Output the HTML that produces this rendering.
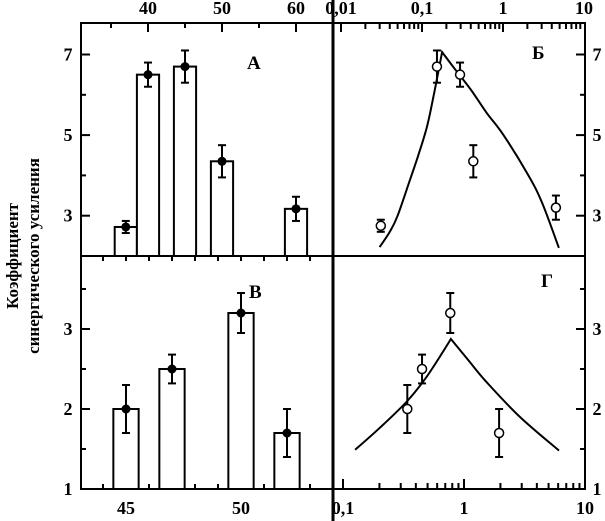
<!DOCTYPE html>
<html><head><meta charset="utf-8">
<style>
html,body{margin:0;padding:0;background:#fff;}
svg{display:block;font-family:"Liberation Serif","DejaVu Serif",serif;font-weight:bold;}
</style></head>
<body>
<svg id="chart" width="605" height="521" viewBox="0 0 605 521" xmlns="http://www.w3.org/2000/svg">
<g id="axes"></g>
<g id="marks"></g>
<text transform="translate(18,256) rotate(-90)" text-anchor="middle" font-size="17">Коэффициент</text>
<text transform="translate(39,256) rotate(-90)" text-anchor="middle" font-size="17">синергического усиления</text>
<text x="247" y="69" font-size="19">А</text>
<text x="532" y="59" font-size="19">Б</text>
<text x="249" y="298" font-size="19">В</text>
<text x="541" y="287" font-size="19">Г</text>
</svg>
<script>
// Panel A (bars, top linear axis)
const aCats = [37, 40, 45, 50, 60];
const aVals = [2.72, 6.5, 6.7, 4.35, 3.17];
const aErrs = [0.15, 0.3, 0.4, 0.4, 0.3];
const aTicks = ["40", "50", "60"];
// Panel B (bars, bottom linear axis)
const bCats = [45, 47, 50, 52];
const bVals = [2.0, 2.5, 3.2, 1.7];
const bErrs = [0.3, 0.18, 0.25, 0.3];
const bTicks = ["45", "50"];
// Panel Б (log x)
const b2X = [0.031, 0.153, 0.295, 0.43, 4.5];
const b2Y = [2.75, 6.7, 6.5, 4.35, 3.2];
const b2E = [0.15, 0.4, 0.3, 0.4, 0.3];
const b2CurveX = [0.030, 0.04, 0.05, 0.071, 0.09, 0.115, 0.14, 0.177, 0.25, 0.4, 0.63, 1.0, 1.98, 3.0, 4.9];
const b2CurveY = [2.22, 2.6, 3.0, 3.89, 4.5, 5.2, 6.0, 7.06, 6.66, 6.13, 5.55, 5.02, 4.06, 3.35, 2.2];
// Panel Г (log x)
const gX = [0.34, 0.45, 0.77, 1.95];
const gY = [2.0, 2.5, 3.2, 1.7];
const gE = [0.3, 0.18, 0.25, 0.3];
const gCurveX = [0.126, 0.2, 0.34, 0.5, 0.78, 1.1, 1.55, 2.9, 6.1];
const gCurveY = [1.49, 1.76, 2.1, 2.42, 2.875, 2.6, 2.33, 1.9, 1.48];
const topLogTicks = ["0,01", "0,1", "1", "10"];
const botLogTicks = ["0,1", "1", "10"];
const yTopTicks = ["3", "5", "7"];
const yBotTicks = ["1", "2", "3"];

const L = 81, M = 333, R = 585, T = 23, MID = 256, B = 489;
const xA = v => 148 + (v - 40) * 7.4;
const yA = v => MID - (v - 2) * 40.3;
const xB = v => 126 + (v - 45) * 23;
const yB = v => B - (v - 1) * 80;
const xLT = v => 422 + Math.log10(v / 0.1) * 81;
const xLB = v => 343 + Math.log10(v / 0.1) * 121;

const NS = "http://www.w3.org/2000/svg";
const axes = document.getElementById("axes");
const marks = document.getElementById("marks");
function mk(tag, attrs, parent) {
  const e = document.createElementNS(NS, tag);
  for (const k in attrs) e.setAttribute(k, attrs[k]);
  parent.appendChild(e);
  return e;
}
function line(x1, y1, x2, y2, w, p) {
  return mk("line", {x1, y1, x2, y2, stroke: "#000", "stroke-width": w}, p);
}
function txt(x, y, s, anchor, p) {
  const t = mk("text", {x, y, "text-anchor": anchor, "font-size": 18}, p);
  t.textContent = s;
  return t;
}

let f = mk("rect", {x: L, y: T, width: R - L, height: B - T, fill: "none", stroke: "#000", "stroke-width": 2}, axes);


let d1 = line(M, 0, M, 521, 3, axes);


let d2 = line(L, MID, R, MID, 2, axes);



for (let v = 35; v <= 60; v += 5) {
  const x = xA(v);
  const t = line(x, T, x, T + (v % 10 === 0 ? 9 : 5), 2, axes);
  
  
}
aTicks.forEach(s => {
  const t = txt(xA(+s), 14, s, "middle", axes);
  
  
});
for (let v = 44; v <= 53; v++) {
  const x = xB(v);
  const h = (v === 45 || v === 50 || v === 47 || v === 52) ? 10 : 5;
  const t = line(x, B, x, B - h, 2, axes);
  
  
  const t2 = line(x, MID, x, MID + 5, 2, axes);
  
  
}
bTicks.forEach(s => {
  const t = txt(xB(+s), 514, s, "middle", axes);
  
  
});
function logTicks(sc, y0, dir, lo, hi, big) {
  for (let d = lo; d < hi; d *= 10) {
    for (let k = 1; k <= 9; k++) {
      const x = sc(d * k);
      const t = line(x, y0, x, y0 + dir * (k === 1 ? big : 6), 2, axes);
      
      
    }
  }
}
logTicks(xLT, T, 1, 0.01, 10, 9);
logTicks(xLB, B, -1, 0.1, 10, 10);
topLogTicks.forEach(s => {
  const t = txt(xLT(parseFloat(s.replace(",", "."))), 14, s, "middle", axes);
  
  
});
botLogTicks.forEach(s => {
  const t = txt(xLB(parseFloat(s.replace(",", "."))), 514, s, "middle", axes);
  
  
});
for (let v = 3; v <= 7; v++) {
  const y = yA(v), w = v % 2 ? 9 : 5;
  let t = line(L, y, L + w, y, 2, axes);
  
  
  t = line(R, y, R - w, y, 2, axes);
  
  
}
for (let v = 1.5; v <= 3.5; v += 0.5) {
  const y = yB(v), w = v % 1 ? 5 : 9;
  let t = line(L, y, L + w, y, 2, axes);
  
  
  t = line(R, y, R - w, y, 2, axes);
  
  
}
yTopTicks.forEach(s => {
  let t = txt(68, yA(+s) + 6, s, "middle", axes);
  
  
  t = txt(597, yA(+s) + 6, s, "middle", axes);
  
  
});
yBotTicks.forEach(s => {
  let t = txt(68, yB(+s) + 6, s, "middle", axes);
  
  
  t = txt(597, yB(+s) + 6, s, "middle", axes);
  
  
});

function errbar(x, y1, y2, cap) {
  const g = mk("g", {}, marks);
  line(x, y1, x, y2, 2, g);
  line(x - cap, y1, x + cap, y1, 2, g);
  line(x - cap, y2, x + cap, y2, 2, g);
  return g;
}
aCats.forEach((c, i) => {
  const x0 = xA(c - 1.5), x1 = xA(c + 1.5), y = yA(aVals[i]);
  const r = mk("rect", {x: x0, y, width: x1 - x0, height: MID - y, fill: "#fff", stroke: "#000", "stroke-width": 2}, marks);
  
  
  const e = errbar(xA(c), yA(aVals[i] + aErrs[i]), yA(aVals[i] - aErrs[i]), 4);
  
  
  const p = mk("circle", {cx: xA(c), cy: y, r: 4.5, fill: "#000"}, marks);
  
  
});
bCats.forEach((c, i) => {
  const x0 = xB(c - 0.55), x1 = xB(c + 0.55), y = yB(bVals[i]);
  const r = mk("rect", {x: x0, y, width: x1 - x0, height: B - y, fill: "#fff", stroke: "#000", "stroke-width": 2}, marks);
  
  
  const e = errbar(xB(c), yB(bVals[i] + bErrs[i]), yB(bVals[i] - bErrs[i]), 4);
  
  
  const p = mk("circle", {cx: xB(c), cy: y, r: 4.5, fill: "#000"}, marks);
  
  
});
function curve(xs, ys, sx, sy, name, peak) {
  const P = xs.map((v, i) => [sx(v), sy(ys[i])]);
  let d = "M" + P[0][0].toFixed(1) + "," + P[0][1].toFixed(1);
  for (let i = 0; i < P.length - 1; i++) {
    const p0 = P[Math.max(0, i - 1)], p1 = P[i], p2 = P[i + 1], p3 = P[Math.min(P.length - 1, i + 2)];
    const a = (i === peak) ? p1 : [p1[0] + (p2[0] - p0[0]) / 6, p1[1] + (p2[1] - p0[1]) / 6];
    const b = (i + 1 === peak) ? p2 : [p2[0] - (p3[0] - p1[0]) / 6, p2[1] - (p3[1] - p1[1]) / 6];
    d += " C" + a[0].toFixed(1) + "," + a[1].toFixed(1) + " " + b[0].toFixed(1) + "," + b[1].toFixed(1) + " " + p2[0].toFixed(1) + "," + p2[1].toFixed(1);
  }
  const p = mk("path", {d, fill: "none", stroke: "#000", "stroke-width": 2}, marks);
  
  
}
curve(b2CurveX, b2CurveY, xLT, yA, 'fit-curve-b', b2CurveY.indexOf(Math.max(...b2CurveY)));
curve(gCurveX, gCurveY, xLB, yB, 'fit-curve-g', gCurveY.indexOf(Math.max(...gCurveY)));
function openPts(xs, ys, es, sx, sy, name) {
  xs.forEach((v, i) => {
    const e = errbar(sx(v), sy(ys[i] + es[i]), sy(ys[i] - es[i]), 4);
    
    
    const c = mk("circle", {cx: sx(v), cy: sy(ys[i]), r: 4.5, fill: "#fff", stroke: "#000", "stroke-width": 1.5}, marks);
    
    
  });
}
openPts(b2X, b2Y, b2E, xLT, yA, 'point-b2');
openPts(gX, gY, gE, xLB, yB, 'point-g');
</script>
</body></html>
